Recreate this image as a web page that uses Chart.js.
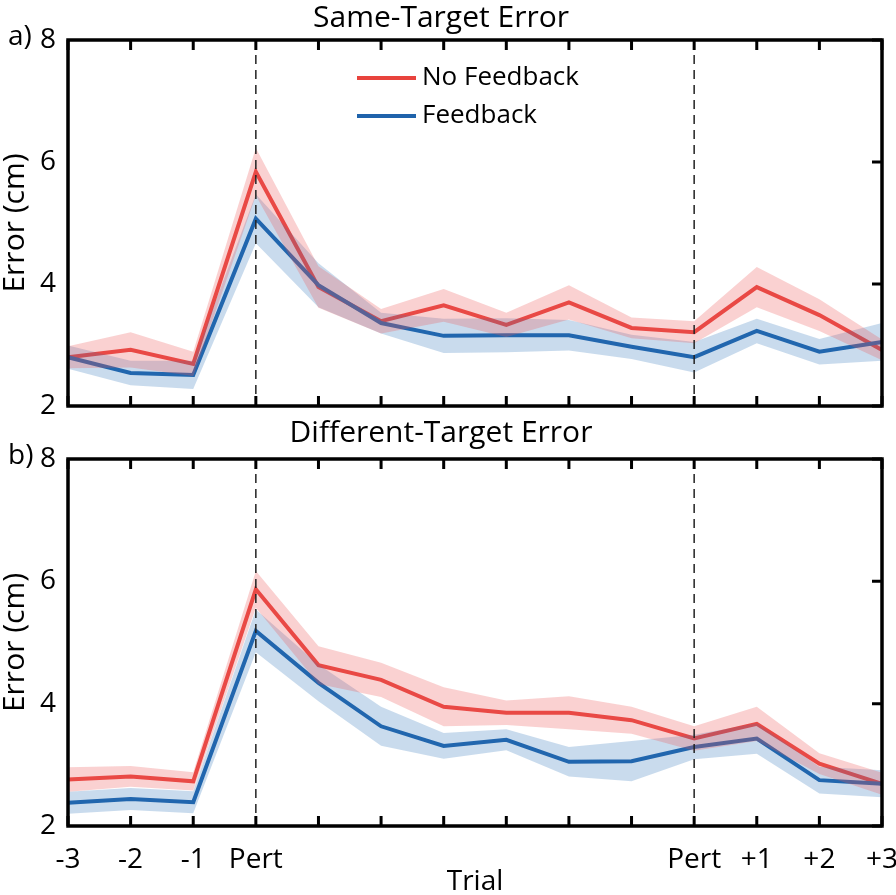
<!DOCTYPE html>
<html>
<head>
<meta charset="utf-8">
<script src="https://cdn.jsdelivr.net/npm/chart.js@4/dist/chart.umd.min.js"></script>
<style>
  html, body { margin: 0; padding: 0; background: #fff; }
  body { width: 896px; height: 895px; overflow: hidden; position: relative; }
  canvas { position: absolute; left: 0; }
  #panelA { top: 0; }
  #panelB { top: 410px; }
</style>
</head>
<body>
<canvas id="panelA" width="896" height="420"></canvas>
<canvas id="panelB" width="896" height="500"></canvas>
<script>
// trial positions: 3 before, perturbation, 6 between, perturbation, 3 after
const trials = ["-3", "-2", "-1", "Pert", "", "", "", "", "", "", "Pert", "+1", "+2", "+3"];
const yTicks = [2, 4, 6, 8];

// a) same-target error (cm), mean and shaded error
const sameNoFb    = [2.80, 2.92, 2.69, 5.84, 3.95, 3.39, 3.65, 3.33, 3.70, 3.28, 3.21, 3.95, 3.49, 2.92];
const sameNoFbErr = [0.18, 0.29, 0.20, 0.39, 0.34, 0.20, 0.27, 0.20, 0.28, 0.17, 0.18, 0.33, 0.26, 0.17];
const sameFb      = [2.80, 2.54, 2.51, 5.07, 3.98, 3.36, 3.15, 3.16, 3.16, 2.97, 2.80, 3.23, 2.89, 3.05];
const sameFbErr   = [0.19, 0.20, 0.23, 0.40, 0.36, 0.17, 0.28, 0.28, 0.25, 0.20, 0.25, 0.20, 0.21, 0.31];

// b) different-target error (cm)
const diffNoFb    = [2.76, 2.81, 2.73, 5.87, 4.63, 4.39, 3.95, 3.85, 3.85, 3.73, 3.43, 3.67, 3.02, 2.69];
const diffNoFbErr = [0.20, 0.17, 0.15, 0.30, 0.31, 0.28, 0.32, 0.20, 0.27, 0.22, 0.20, 0.28, 0.17, 0.18];
const diffFb      = [2.38, 2.44, 2.39, 5.19, 4.34, 3.63, 3.31, 3.41, 3.05, 3.06, 3.29, 3.43, 2.75, 2.69];
const diffFbErr   = [0.18, 0.18, 0.18, 0.35, 0.30, 0.32, 0.21, 0.17, 0.24, 0.33, 0.20, 0.25, 0.22, 0.22];

const RED = "#e8433d", BLUE = "#1f63ab";
const RED_BAND = "rgba(238, 90, 90, 0.28)", BLUE_BAND = "rgba(40, 110, 185, 0.25)";
const FONT = "'Open Sans', sans-serif";

Chart.defaults.font.family = FONT;
Chart.defaults.color = "#000";

function datasets(noFb, noFbErr, fb, fbErr) {
  const edge = (vals, color, fill) => ({
    data: vals, borderWidth: 0, pointRadius: 0, fill: fill, backgroundColor: color, order: 0
  });
  return [
    edge(noFb.map((v, i) => v + noFbErr[i]), RED_BAND, "+1"),
    edge(noFb.map((v, i) => v - noFbErr[i]), RED_BAND, false),
    edge(fb.map((v, i) => v + fbErr[i]), BLUE_BAND, "+1"),
    edge(fb.map((v, i) => v - fbErr[i]), BLUE_BAND, false),
    { label: "No Feedback", data: noFb, borderColor: RED, borderWidth: 4, pointRadius: 0, fill: false, order: 2 },
    { label: "Feedback", data: fb, borderColor: BLUE, borderWidth: 4, pointRadius: 0, fill: false, order: 1 }
  ];
}

// box, inward ticks and dashed perturbation markers
const frame = {
  id: "frame",
  afterDatasetsDraw(chart) {
    const { ctx, chartArea: a, scales: { x, y } } = chart;
    ctx.save();
    ctx.strokeStyle = "#222";
    ctx.lineWidth = 1.5;
    ctx.setLineDash([9, 6]);
    trials.forEach((t, i) => {
      if (t !== "Pert") return;
      const px = x.getPixelForTick(i);
      ctx.beginPath(); ctx.moveTo(px, a.top); ctx.lineTo(px, a.bottom); ctx.stroke();
    });
    ctx.setLineDash([]);
    ctx.strokeStyle = "#000";
    ctx.lineWidth = 3;
    ctx.beginPath();
    x.ticks.forEach((t, i) => {
      const px = x.getPixelForTick(i);
      ctx.moveTo(px, a.bottom); ctx.lineTo(px, a.bottom - 10);
      ctx.moveTo(px, a.top); ctx.lineTo(px, a.top + 10);
    });
    y.ticks.forEach((t, i) => {
      const py = y.getPixelForTick(i);
      ctx.moveTo(a.right, py); ctx.lineTo(a.right - 10, py);
    });
    ctx.stroke();
    ctx.lineWidth = 3.5;
    ctx.strokeRect(a.left, a.top, a.width, a.height);
    ctx.restore();
  }
};

// panel letter and in-plot legend
const decor = {
  id: "decor",
  afterDraw(chart, args, opts) {
    const { ctx, chartArea: a } = chart;
    ctx.save();
    ctx.fillStyle = "#000";
    ctx.font = "28px " + FONT;
    ctx.textBaseline = "middle";
    ctx.textAlign = "left";
    ctx.fillText(opts.tag, 8, a.top - 3);
    if (opts.legend) {
      ctx.font = "26px " + FONT;
      chart.data.datasets.filter(d => d.label).forEach((d, k) => {
        const ly = a.top + 38 + k * 38;
        ctx.strokeStyle = d.borderColor;
        ctx.lineWidth = 4;
        ctx.beginPath(); ctx.moveTo(357, ly); ctx.lineTo(416, ly); ctx.stroke();
        ctx.fillText(d.label, 422, ly);
      });
    }
    ctx.restore();
  }
};

function makeChart(id, title, sets, opts) {
  return new Chart(document.getElementById(id), {
    type: "line",
    data: { labels: trials, datasets: sets },
    plugins: [frame, decor],
    options: {
      responsive: false,
      animation: false,
      devicePixelRatio: 1,
      layout: { padding: { left: 0, right: 14, top: 0, bottom: 0 } },
      elements: { line: { tension: 0 } },
      plugins: {
        legend: { display: false },
        tooltip: { enabled: false },
        title: {
          display: true, text: title, color: "#000",
          font: { size: 30, weight: "normal", family: FONT, lineHeight: 1.2 },
          padding: opts.titlePad
        },
        decor: { tag: opts.tag, legend: opts.legend }
      },
      scales: {
        x: {
          type: "category",
          grid: { display: false, drawTicks: false },
          border: { display: false },
          ticks: {
            display: opts.showX, autoSkip: false, maxRotation: 0, padding: 17,
            font: { size: 28 }, color: "#000"
          },
          title: {
            display: opts.showX, text: "Trial", color: "#000",
            font: { size: 28, lineHeight: 1 }, padding: { top: 0, bottom: 14 }
          },
          afterFit: s => {
            s.height = opts.xHeight;
            s.paddingLeft = 0; s.paddingRight = 0;
          }
        },
        y: {
          min: 2, max: 8,
          afterBuildTicks: s => { s.ticks = yTicks.map(v => ({ value: v })); },
          grid: { display: false, drawTicks: false },
          border: { display: false },
          ticks: { padding: 12, font: { size: 28 }, color: "#000" },
          title: {
            display: true, text: "Error (cm)", color: "#000",
            font: { size: 30, lineHeight: 1 }, padding: { top: 0, bottom: 0 }
          },
          afterFit: s => {
            s.width = 68;
            s.paddingTop = 0; s.paddingBottom = 0;
          }
        }
      }
    }
  });
}

makeChart("panelA", "Same-Target Error",
  datasets(sameNoFb, sameNoFbErr, sameFb, sameFbErr),
  { tag: "a)", legend: true, showX: false, xHeight: 14,
    titlePad: { top: 0, bottom: 4 } });

makeChart("panelB", "Different-Target Error",
  datasets(diffNoFb, diffNoFbErr, diffFb, diffFbErr),
  { tag: "b)", legend: false, showX: true, xHeight: 84,
    titlePad: { top: 5, bottom: 8 } });
</script>
</body>
</html>
